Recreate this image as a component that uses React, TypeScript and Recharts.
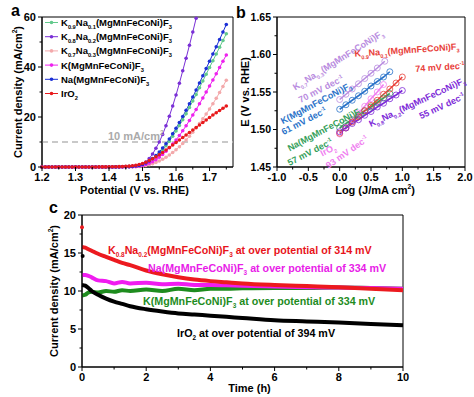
import React from "react";
import { LineChart, ComposedChart, Line, Scatter, XAxis, YAxis, ReferenceLine, ReferenceArea } from "recharts";

const FONT = "'Liberation Sans', Arial, sans-serif";

// ---------- (a) LSV polarization curves ----------
const potential = [
  1.20, 1.21, 1.22, 1.23, 1.24, 1.25, 1.26, 1.27, 1.28, 1.29,
  1.30, 1.31, 1.32, 1.33, 1.34, 1.35, 1.36, 1.37, 1.38, 1.39,
  1.40, 1.41, 1.42, 1.43, 1.44, 1.45, 1.46, 1.47, 1.48, 1.49,
  1.50, 1.51, 1.52, 1.53, 1.54, 1.55, 1.56, 1.57, 1.58, 1.59,
  1.60, 1.61, 1.62, 1.63, 1.64, 1.65, 1.66, 1.67, 1.68, 1.69,
  1.70, 1.71, 1.72, 1.73, 1.74, 1.75,
];
const jK09Na01 = [
  0, 0, 0, 0, 0, 0, 0, 0, 0, 0,
  0, 0, 0, 0, 0, 0, 0, 0, 0, 0,
  0, 0, 0.05, 0.05, 0.1, 0.1, 0.15, 0.2, 0.3, 0.5,
  0.8, 1.3, 2.0, 2.9, 4.0, 5.3, 6.8, 8.5, 10.3, 12.3,
  14.4, 16.6, 18.9, 21.3, 23.8, 26.4, 29.0, 31.7, 34.4, 37.1,
  39.8, 42.5, 45.2, 47.9, 50.6, 53.3,
];
const jK08Na02 = [
  0, 0, 0, 0, 0, 0, 0, 0, 0, 0,
  0, 0, 0, 0, 0, 0, 0, 0, 0, 0,
  0, 0, 0.05, 0.05, 0.1, 0.15, 0.2, 0.3, 0.5, 0.8,
  1.2, 2.0, 3.4, 5.2, 7.5, 10.0, 13.0, 16.5, 20.3, 24.4,
  28.8, 33.5, 38.5, 43.5, 48.7, 54.0, 59.5,
];
const jK07Na03 = [
  0, 0, 0, 0, 0, 0, 0, 0, 0, 0,
  0, 0, 0, 0, 0, 0, 0, 0, 0, 0,
  0, 0, 0, 0.05, 0.05, 0.05, 0.1, 0.1, 0.15, 0.2,
  0.3, 0.6, 0.9, 1.3, 1.8, 2.4, 3.1, 3.9, 4.8, 5.8,
  6.9, 8.1, 9.4, 10.8, 12.3, 13.9, 15.6, 17.4, 19.3, 21.2,
  23.2, 25.3, 27.5, 29.8, 32.2, 34.7,
];
const jK = [
  0, 0, 0, 0, 0, 0, 0, 0, 0, 0,
  0, 0, 0, 0, 0, 0, 0, 0, 0, 0,
  0, 0, 0, 0.05, 0.05, 0.1, 0.1, 0.15, 0.25, 0.4,
  0.6, 1.0, 1.5, 2.1, 2.9, 3.9, 5.0, 6.3, 7.7, 9.2,
  10.8, 12.6, 14.5, 16.5, 18.6, 20.8, 23.0, 25.3, 27.6, 30.0,
  32.4, 34.8, 37.3, 39.8, 42.3, 44.8,
];
const jNa = [
  0, 0, 0, 0, 0, 0, 0, 0, 0, 0,
  0, 0, 0, 0, 0, 0, 0, 0, 0, 0,
  0, 0, 0.05, 0.05, 0.1, 0.1, 0.15, 0.25, 0.4, 0.6,
  1.0, 1.6, 2.4, 3.4, 4.6, 6.0, 7.6, 9.3, 11.2, 13.3,
  15.5, 17.8, 20.2, 22.7, 25.3, 28.0, 30.8, 33.6, 36.5, 39.4,
  42.3, 45.2, 48.1, 51.0, 54.0, 57.0,
];
const jIrO2 = [
  0, 0, 0, 0, 0, 0, 0, 0, 0, 0,
  0, 0, 0, 0, 0, 0, 0, 0.05, 0.05, 0.05,
  0.05, 0.1, 0.1, 0.15, 0.2, 0.25, 0.35, 0.5, 0.7, 1.0,
  1.4, 1.9, 2.6, 3.3, 4.1, 4.9, 5.8, 6.8, 7.8, 8.8,
  9.8, 10.8, 11.8, 12.8, 13.8, 14.8, 15.8, 16.8, 17.8, 18.8,
  19.8, 20.8, 21.7, 22.6, 23.5, 24.4,
];
const namesA = [
  "K_{0.9}Na_{0.1}(MgMnFeCoNi)F_{3}",
  "K_{0.8}Na_{0.2}(MgMnFeCoNi)F_{3}",
  "K_{0.7}Na_{0.3}(MgMnFeCoNi)F_{3}",
  "K(MgMnFeCoNi)F_{3}",
  "Na(MgMnFeCoNi)F_{3}",
  "IrO_{2}",
];
const colorsA = ["#62c98c", "#7a2fd6", "#f3a9ab", "#ee22ee", "#1b2fd6", "#e8191b"];
const seriesA = [jK09Na01, jK08Na02, jK07Na03, jK, jNa, jIrO2];
const xTicksA = [1.2, 1.25, 1.3, 1.35, 1.4, 1.45, 1.5, 1.55, 1.6, 1.65, 1.7, 1.75];
const xMajorA = [1.2, 1.3, 1.4, 1.5, 1.6, 1.7];
const yTicksA = [0, 10, 20, 30, 40, 50, 60];
const yMajorA = [0, 20, 40, 60];

// ---------- (b) Tafel plots ----------
const logK07 = [0, 0.1, 0.2, 0.3, 0.4, 0.5, 0.6, 0.72];
const eK07 = [1.540, 1.547, 1.554, 1.561, 1.568, 1.575, 1.582, 1.591];
const logK = [0, 0.1, 0.2, 0.3, 0.4, 0.5, 0.6, 0.7, 0.8];
const eK = [1.527, 1.533, 1.539, 1.545, 1.551, 1.558, 1.564, 1.570, 1.577];
const logNa = [0, 0.1, 0.2, 0.3, 0.4, 0.5, 0.6, 0.7, 0.8];
const eNa = [1.502, 1.508, 1.513, 1.519, 1.525, 1.530, 1.536, 1.542, 1.548];
const logIr = [0, 0.1, 0.2, 0.3, 0.4, 0.5, 0.6, 0.7];
const eIr = [1.494, 1.503, 1.513, 1.522, 1.531, 1.541, 1.550, 1.560];
const logK09 = [0, 0.1, 0.2, 0.3, 0.4, 0.5, 0.6, 0.7, 0.8, 0.9, 1.0];
const eK09 = [1.495, 1.502, 1.510, 1.517, 1.525, 1.532, 1.539, 1.547, 1.554, 1.562, 1.570];
const logK08 = [0, 0.1, 0.2, 0.3, 0.4, 0.5, 0.6, 0.7, 0.8, 0.9, 1.0];
const eK08 = [1.497, 1.502, 1.508, 1.513, 1.519, 1.524, 1.530, 1.535, 1.541, 1.546, 1.552];
const tafel = [
  { log: logK07, e: eK07, color: "#b98ce0" },
  { log: logK, e: eK, color: "#2b73c9" },
  { log: logNa, e: eNa, color: "#35a05a" },
  { log: logIr, e: eIr, color: "#f07ef0" },
  { log: logK09, e: eK09, color: "#e8403a" },
  { log: logK08, e: eK08, color: "#7d2ad8" },
];
const xTicksB = [-1, -0.75, -0.5, -0.25, 0, 0.25, 0.5, 0.75, 1, 1.25, 1.5, 1.75, 2];
const xMajorB = [-1, -0.5, 0, 0.5, 1, 1.5, 2];
const yTicksB = [1.45, 1.475, 1.5, 1.525, 1.55, 1.575, 1.6, 1.625, 1.65];
const yMajorB = [1.45, 1.5, 1.55, 1.6, 1.65];
const tafelLabels = [
  { s: "K_{0.7}Na_{0.3}(MgMnFeCoNi)F_{3}", c: "#b98ce0", x: 338, y: 60, a: -32 },
  { s: "70 mV dec^{-1}", c: "#b98ce0", x: 321, y: 89, a: -27 },
  { s: "K(MgMnFeCoNi)F_{3}", c: "#2b73c9", x: 316, y: 103, a: -28 },
  { s: "61 mV dec^{-1}", c: "#2b73c9", x: 304, y: 121, a: -27 },
  { s: "Na(MgMnFeCoNi)F_{3}", c: "#35a05a", x: 325, y: 129, a: -28 },
  { s: "57 mV dec^{-1}", c: "#35a05a", x: 310, y: 152, a: -27 },
  { s: "IrO_{2}", c: "#f07ef0", x: 328, y: 150, a: -27 },
  { s: "93 mV dec^{-1}", c: "#f07ef0", x: 347, y: 152, a: -35 },
  { s: "K_{0.9}Na_{0.1}(MgMnFeCoNi)F_{3}", c: "#e8403a", x: 407, y: 50, a: -4 },
  { s: "74 mV dec^{-1}", c: "#e8403a", x: 440, y: 67, a: -4 },
  { s: "K_{0.8}Na_{0.2}(MgMnFeCoNi)F_{3}", c: "#7d2ad8", x: 417, y: 102, a: -25 },
  { s: "55 mV dec^{-1}", c: "#7d2ad8", x: 442, y: 106, a: -25 },
];

// ---------- (c) chronoamperometry ----------
const tHours = [0, 0.1, 0.2, 0.3, 0.5, 0.75, 1, 1.25, 1.5, 2, 2.5, 3, 3.5, 4, 4.5, 5, 6, 7, 8, 9, 10];
const cK08 = [15.8, 15.7, 15.5, 15.3, 14.9, 14.5, 14.1, 13.7, 13.4, 12.7, 12.2, 11.8, 11.5, 11.3, 11.15, 11.0, 10.8, 10.65, 10.5, 10.3, 10.1];
const cNa = [12.1, 12.1, 12.0, 11.8, 11.4, 11.3, 11.0, 11.2, 11.0, 11.1, 10.9, 10.95, 10.8, 10.8, 10.75, 10.7, 10.6, 10.5, 10.45, 10.4, 10.3];
const cK = [9.4, 9.5, 9.8, 9.9, 9.8, 10.0, 9.9, 10.1, 10.0, 10.2, 10.0, 10.3, 10.1, 10.3, 10.3, 10.35, 10.4, 10.4, 10.45, 10.4, 10.3];
const cIr = [10.8, 10.7, 10.4, 10.0, 9.5, 9.0, 8.6, 8.3, 8.0, 7.6, 7.3, 7.05, 6.9, 6.75, 6.6, 6.45, 6.15, 6.0, 5.85, 5.65, 5.5];
const firstRed = [{ t: 0, v: 18.4 }];
const firstBlack = [{ t: 0.02, v: 14.6 }];
const xTicksC = [0, 1, 2, 3, 4, 5, 6, 7, 8, 9, 10];
const xMajorC = [0, 2, 4, 6, 8, 10];
const yTicksC = [0, 2.5, 5, 7.5, 10, 12.5, 15, 17.5, 20];
const yMajorC = [0, 5, 10, 15, 20];
const stabLabels = [
  { s: "K_{0.8}Na_{0.2}(MgMnFeCoNi)F_{3} at over potential of 314 mV", c: "#e8141b", x: 108, y: 254 },
  { s: "Na(MgMnFeCoNi)F_{3} at over potential of 334 mV", c: "#e81ce8", x: 148, y: 272 },
  { s: "K(MgMnFeCoNi)F_{3} at over potential of 334 mV", c: "#1e8c1e", x: 143, y: 305 },
  { s: "IrO_{2} at over potential of 394 mV", c: "#000", x: 177, y: 337 },
];

const rowsA = potential.map((p, i) => {
  const r: any = { p };
  seriesA.forEach((s, k) => { if (s[i] !== undefined) r["s" + k] = s[i]; });
  return r;
});
const rowsC = tHours.map((t, i) => ({ t, a: cK08[i], b: cNa[i], c: cK[i], d: cIr[i] }));

// subscript / superscript text as tspans: "_{..}" and "^{..}"
function chem(s: string, fs: number) {
  const parts = s.split(/(_\{[^}]*\}|\^\{[^}]*\})/).filter(Boolean);
  let shift = 0;
  return parts.map((p, i) => {
    let target = 0, txt = p, size = fs;
    if (p[0] === "_") { target = fs * 0.32; txt = p.slice(2, -1); size = fs * 0.6; }
    else if (p[0] === "^") { target = -fs * 0.42; txt = p.slice(2, -1); size = fs * 0.6; }
    const dy = target - shift;
    shift = target;
    return <tspan key={i} dy={dy || undefined} fontSize={size}>{txt}</tspan>;
  });
}

const TS = 4, TM = 2;
const near = (v: number, list: number[]) => list.some((m) => Math.abs(m - v) < 1e-6);
const txt = { fontSize: 11, fontWeight: 700, fontFamily: FONT, fill: "#000" } as const;

function bottomTick(majors: number[], digits: number, fs = 11) {
  return (p: any) => {
    const v = p.payload.value;
    const y0 = p.y - TS - TM;
    const major = near(v, majors);
    return (
      <g>
        <line x1={p.x} x2={p.x} y1={y0} y2={y0 + (major ? 4 : 2.5)} stroke="#000" />
        {major && <text x={p.x} y={y0 + 14} textAnchor="middle" {...txt} fontSize={fs}>{v.toFixed(digits)}</text>}
      </g>
    );
  };
}
function leftTick(majors: number[], digits: number, fs = 11) {
  return (p: any) => {
    const v = p.payload.value;
    const x0 = p.x + TS + TM;
    const major = near(v, majors);
    return (
      <g>
        <line x1={x0} x2={x0 - (major ? 4 : 2.5)} y1={p.y} y2={p.y} stroke="#000" />
        {major && <text x={x0 - 6} y={p.y} dy="0.36em" textAnchor="end" {...txt} fontSize={fs}>{v.toFixed(digits)}</text>}
      </g>
    );
  };
}
const yTitle = (s: string, x: number) => (p: any) => {
  const cy = p.viewBox.y + p.viewBox.height / 2;
  return <text x={x} y={cy} transform={`rotate(-90 ${x} ${cy})`} textAnchor="middle" {...txt}>{chem(s, 11)}</text>;
};
const xTitle = (s: string, dx: number, y: number) => (p: any) => (
  <text x={p.viewBox.x + p.viewBox.width / 2 + dx} y={y} textAnchor="middle" {...txt}>{chem(s, 11)}</text>
);

export default function App() {
  return (
    <div style={{ position: "absolute", left: 0, top: 0, width: 474, height: 397, background: "#fff", fontFamily: FONT }}>
      <div style={{ position: "absolute", left: 0, top: 0 }}>
        <LineChart width={240} height={200} data={rowsA} margin={{ top: 17, right: 7, bottom: 0, left: 0 }}>
          <ReferenceLine y={10} stroke="#b8b8b8" strokeWidth={1.5} strokeDasharray="6 4" />
          <XAxis dataKey="p" type="number" domain={[1.2, 1.77]} ticks={xTicksA} interval={0} height={33}
            tickSize={TS} tickMargin={TM} tickLine={false} tick={bottomTick(xMajorA, 1)} stroke="#000"
            label={xTitle("Potential (V vs. RHE)", -3, 194)} />
          <YAxis type="number" domain={[0, 60]} ticks={yTicksA} interval={0} width={42}
            tickSize={TS} tickMargin={TM} tickLine={false} tick={leftTick(yMajorA, 0)} stroke="#000"
            label={yTitle("Current density (mA/cm^{2})", 22)} />
          <ReferenceArea x1={1.2} x2={1.77} y1={0} y2={60} fill="none" stroke="#000" />
          {seriesA.map((_, k) => (
            <Line key={k} dataKey={"s" + k} stroke={colorsA[k]} strokeWidth={1} isAnimationActive={false}
              dot={{ r: 1.8, fill: colorsA[k], stroke: colorsA[k], strokeWidth: 0 }} />
          ))}
        </LineChart>
      </div>

      <div style={{ position: "absolute", left: 235, top: 0 }}>
        <LineChart width={239} height={200} margin={{ top: 17, right: 9, bottom: 0, left: 0 }}>
          <XAxis dataKey="x" type="number" domain={[-1, 2]} ticks={xTicksB} interval={0} height={33}
            tickSize={TS} tickMargin={TM} tickLine={false} tick={bottomTick(xMajorB, 1)} stroke="#000"
            label={xTitle("Log (J/mA cm^{2})", 4, 194)} />
          <YAxis type="number" domain={[1.45, 1.65]} ticks={yTicksB} interval={0} width={42}
            tickSize={TS} tickMargin={TM} tickLine={false} tick={leftTick(yMajorB, 2, 10.5)} stroke="#000"
            label={yTitle("E (V vs. RHE)", 14)} />
          <ReferenceArea x1={-1} x2={2} y1={1.45} y2={1.65} fill="none" stroke="#000" />
          {tafel.map((s, k) => (
            <Line key={k} data={s.log.map((x, i) => ({ x, e: s.e[i] }))} dataKey="e" stroke={s.color}
              strokeWidth={1.6} isAnimationActive={false}
              dot={{ r: 3, fill: "none", stroke: s.color, strokeWidth: 0.8 }} />
          ))}
        </LineChart>
      </div>

      <div style={{ position: "absolute", left: 0, top: 197 }}>
        <ComposedChart width={474} height={200} data={rowsC} margin={{ top: 18, right: 71, bottom: 0, left: 52 }}>
          <XAxis dataKey="t" type="number" domain={[0, 10]} ticks={xTicksC} interval={0} height={30}
            tickSize={TS} tickMargin={TM} tickLine={false} tick={bottomTick(xMajorC, 0)} stroke="#000"
            label={xTitle("Time (h)", 7, 195)} />
          <YAxis type="number" domain={[0, 20]} ticks={yTicksC} interval={0} width={30}
            tickSize={TS} tickMargin={TM} tickLine={false} tick={leftTick(yMajorC, 0)} stroke="#000"
            label={yTitle("Current density (mA/cm^{2})", 58)} />
          <ReferenceArea x1={0} x2={10} y1={0} y2={20} fill="none" stroke="#000" />
          <Line dataKey="c" type="monotone" stroke="#1e8c1e" strokeWidth={4} dot={false} isAnimationActive={false} />
          <Line dataKey="b" type="monotone" stroke="#f01cf0" strokeWidth={4} dot={false} isAnimationActive={false} />
          <Line dataKey="d" type="monotone" stroke="#000" strokeWidth={4} dot={false} isAnimationActive={false} />
          <Line dataKey="a" type="monotone" stroke="#ec1a1f" strokeWidth={4} dot={false} isAnimationActive={false} />
          <Scatter data={firstRed} dataKey="v" fill="#ec1a1f" isAnimationActive={false}
            shape={(p: any) => <circle cx={p.cx} cy={p.cy} r={2} fill="#ec1a1f" />} />
          <Scatter data={firstBlack} dataKey="v" fill="#000" isAnimationActive={false}
            shape={(p: any) => <circle cx={p.cx} cy={p.cy} r={2} fill="#000" />} />
        </ComposedChart>
      </div>

      <svg width={474} height={397} style={{ position: "absolute", left: 0, top: 0, pointerEvents: "none" }}>
        <g fontFamily={FONT} fontWeight={700}>
          <text x={11} y={16} fontSize={16}>a</text>
          <text x={236} y={18} fontSize={16}>b</text>
          <text x={49} y={213} fontSize={16}>c</text>

          {namesA.map((n, i) => {
            const cy = 22.5 + i * 14.2;
            return (
              <g key={i}>
                <line x1={45} x2={58} y1={cy} y2={cy} stroke={colorsA[i]} />
                <circle cx={51.5} cy={cy} r={1.8} fill={colorsA[i]} />
                <text x={61} y={cy + 3.4} fontSize={9.5} fill="#000">{chem(n, 9.5)}</text>
              </g>
            );
          })}
          <text x={108} y={139.5} fontSize={11} fill="#aaaaaa">{chem("10 mA/cm^{2}", 11)}</text>

          {tafelLabels.map((l, i) => (
            <text key={i} x={l.x} y={l.y + 3.2} fontSize={9} fill={l.c} textAnchor="middle"
              transform={`rotate(${l.a} ${l.x} ${l.y})`}>{chem(l.s, 9)}</text>
          ))}

          {stabLabels.map((l, i) => (
            <text key={i} x={l.x} y={l.y} fontSize={10.7} fill={l.c}>{chem(l.s, 10.7)}</text>
          ))}
        </g>
      </svg>
    </div>
  );
}
